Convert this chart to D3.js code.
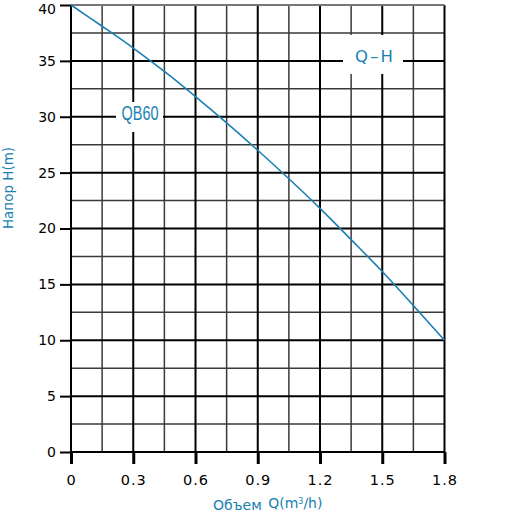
<!DOCTYPE html>
<html>
<head>
<meta charset="utf-8">
<script src="https://cdn.jsdelivr.net/npm/d3@7"></script>
<style>
  body { margin: 0; background: #fff; }
  svg { display: block; }
</style>
</head>
<body>
<div id="chart"></div>
<script>
// Q-H curve of the QB60 pump
const flow = [0, 0.15, 0.3, 0.45, 0.6, 0.75, 0.9, 1.05, 1.2, 1.35, 1.5, 1.65, 1.8]
const head = [40, 38.1, 36.15, 34.05, 31.8, 29.45, 27.0, 24.45, 21.8, 19.0, 16.15, 13.1, 10.0]

const xTicks = [0, 0.3, 0.6, 0.9, 1.2, 1.5, 1.8]
const yTicks = [0, 5, 10, 15, 20, 25, 30, 35, 40]
const xMinor = [0.15, 0.45, 0.75, 1.05, 1.35, 1.65]
const yMinor = [2.5, 7.5, 12.5, 17.5, 22.5, 27.5, 32.5, 37.5]

const width = 512, height = 512
const blue = '#1a7fb3'

const x = d3.scaleLinear().domain([0, 1.8]).range([71, 444.5])
const y = d3.scaleLinear().domain([0, 40]).range([452, 5])

const svg = d3.select('#chart').append('svg')
    .attr('width', width)
    .attr('height', height)

// grid
const grid = svg.append('g')
grid.selectAll('.vminor').data(xMinor).enter().append('line')
    .attr('x1', d => x(d)).attr('x2', d => x(d))
    .attr('y1', y(0)).attr('y2', y(40))
    .attr('stroke', '#3a3a3a').attr('stroke-width', 1.5)
grid.selectAll('.hminor').data(yMinor).enter().append('line')
    .attr('y1', d => y(d)).attr('y2', d => y(d))
    .attr('x1', x(0)).attr('x2', x(1.8))
    .attr('stroke', '#3a3a3a').attr('stroke-width', 1.5)
grid.selectAll('.vmajor').data(xTicks).enter().append('line')
    .attr('x1', d => x(d)).attr('x2', d => x(d))
    .attr('y1', y(0)).attr('y2', y(40))
    .attr('stroke', '#000').attr('stroke-width', 2)
grid.selectAll('.hmajor').data(yTicks).enter().append('line')
    .attr('y1', d => y(d)).attr('y2', d => y(d))
    .attr('x1', x(0)).attr('x2', x(1.8))
    .attr('stroke', d => d === 40 ? '#777' : '#000').attr('stroke-width', 2)

// axes
const xAxis = svg.append('g')
    .attr('transform', `translate(0,${y(0)})`)
    .call(d3.axisBottom(x).tickValues(xTicks).tickSize(12).tickPadding(11)
        .tickFormat(d => d === 0 ? '0' : d3.format('.1f')(d)))
xAxis.select('.domain').remove()
xAxis.selectAll('line').attr('stroke', '#000').attr('stroke-width', 3)
xAxis.selectAll('text')
    .style('font-family', 'DejaVu Sans, sans-serif')
    .style('font-size', '14.5px')
    .style('letter-spacing', '1px')
    .attr('fill', '#000')

const yAxis = svg.append('g')
    .attr('transform', `translate(${x(0)},0)`)
    .call(d3.axisLeft(y).tickValues(yTicks).tickSize(11).tickPadding(4))
yAxis.select('.domain').remove()
yAxis.selectAll('line').attr('stroke', '#000').attr('stroke-width', 2)
yAxis.selectAll('text')
    .style('font-family', 'DejaVu Sans, sans-serif')
    .style('font-size', '14px')
    .attr('fill', '#000')
// keep the top label inside the picture
yAxis.selectAll('.tick').filter(d => d === 40).select('text').attr('dy', '0.62em')

// label boxes
svg.append('rect').attr('x', 116).attr('y', 102).attr('width', 47).attr('height', 30).attr('fill', '#fff')
svg.append('rect').attr('x', 343).attr('y', 35).attr('width', 60).attr('height', 39).attr('fill', '#fff')

svg.append('text')
    .attr('x', 121.5).attr('y', 120)
    .attr('textLength', 37).attr('lengthAdjust', 'spacingAndGlyphs')
    .style('font-family', 'Liberation Sans Narrow, Liberation Sans, sans-serif')
    .style('font-size', '20px')
    .attr('fill', blue)
    .text('QB60')

svg.append('text')
    .attr('x', 355).attr('y', 62)
    .attr('textLength', 38).attr('lengthAdjust', 'spacing')
    .style('font-family', 'DejaVu Sans, sans-serif')
    .style('font-size', '16.5px')
    .attr('fill', blue)
    .text('Q–H')

// curve
const line = d3.line()
    .x((d, i) => x(flow[i]))
    .y(d => y(d))
    .curve(d3.curveCatmullRom)

svg.append('path')
    .datum(head)
    .attr('d', line)
    .attr('fill', 'none')
    .attr('stroke', blue)
    .attr('stroke-width', 1.6)

// axis titles
svg.append('text')
    .attr('transform', 'translate(13,188) rotate(-90)')
    .attr('text-anchor', 'middle')
    .style('font-family', 'DejaVu Sans, sans-serif')
    .style('font-size', '13.5px')
    .attr('fill', blue)
    .text('Напор H(m)')

const xt = svg.append('text')
    .attr('x', 213).attr('y', 510)
    .style('font-family', 'DejaVu Sans, sans-serif')
    .style('font-size', '14px')
    .attr('fill', blue)
xt.append('tspan').text('Объем ')
xt.append('tspan').attr('dx', 2).attr('dy', -2).text('Q(m')
xt.append('tspan').attr('dy', -4).style('font-size', '8px').text('3')
xt.append('tspan').attr('dy', 4).text('/h)')
</script>
</body>
</html>
